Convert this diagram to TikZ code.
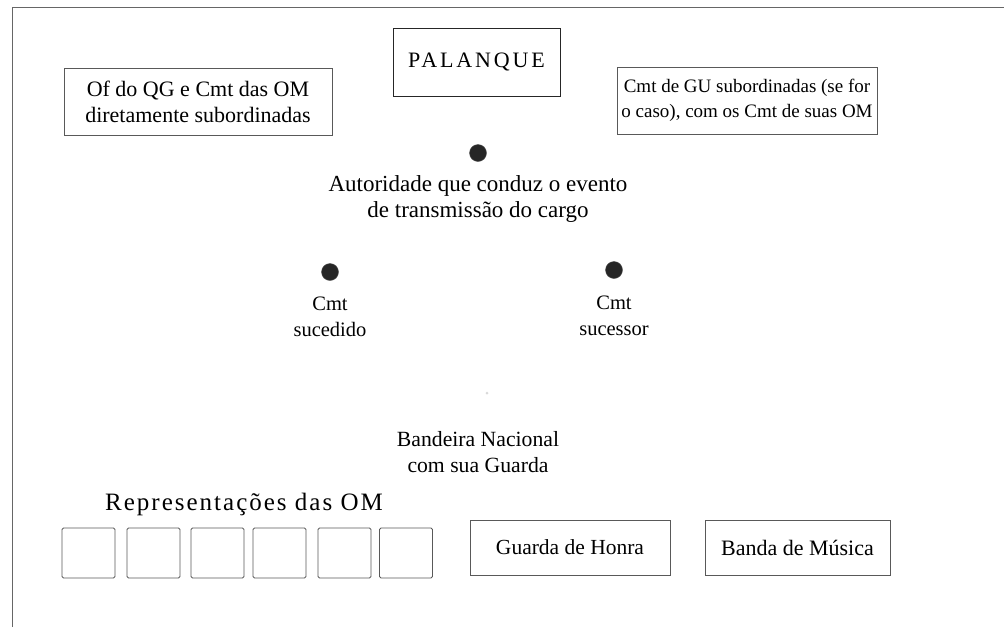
\documentclass[tikz,border=0pt]{standalone}
\usepackage{fontspec}
\setmainfont{Liberation Serif}
\begin{document}
\begin{tikzpicture}[x=1pt,y=-1pt,
  frame/.style={draw=black!60,line width=0.9pt},
  box/.style={draw=black!65,line width=0.9pt,inner sep=0pt,align=center,font=\fontsize{19}{25}\selectfont},
  omsq/.style={draw=black!65,line width=0.9pt,inner sep=0pt,minimum width=53pt,minimum height=50pt,rounded corners=1.5pt},
  pdot/.style={circle,fill=black!85,draw=black!70,minimum size=17pt,inner sep=0pt},
  lbl/.style={align=center,inner sep=0pt,font=\fontsize{20.5}{25.5}\selectfont}]
\useasboundingbox (0,0) rectangle (1006,627);
\draw[frame] (12,627) -- (12,7) -- (1004,7);
\node[box,draw=black!85,line width=1pt,minimum width=167pt,minimum height=68pt,font=\fontsize{22}{25}\selectfont\addfontfeature{LetterSpace=13}] (pal) at (476.5,62) {PALANQUE};
\node[box,minimum width=268pt,minimum height=67pt,font=\fontsize{22}{26}\selectfont] (of) at (198,101.5) {Of do QG e Cmt das OM\\diretamente subordinadas};
\node[box,minimum width=260pt,minimum height=67pt] (gu) at (747,100.5) {Cmt de GU subordinadas (se for\\o caso), com os Cmt de suas OM};
\node[pdot] (d1) at (478,153) {};
\node[lbl,font=\fontsize{23}{26}\selectfont] (aut) at (478,199) {Autoridade que conduz o evento\\de transmissão do cargo};
\node[pdot] (d2) at (330,272) {};
\node[pdot] (d3) at (614,270) {};
\node[lbl] (suc) at (330,317) {Cmt\\sucedido};
\node[lbl] (ssr) at (614,316) {Cmt\\sucessor};
\node[circle,fill=black!15,minimum size=3pt,inner sep=0pt] (flag) at (487,393) {};
\node[lbl,font=\fontsize{21.7}{25.5}\selectfont] (band) at (478,452) {Bandeira Nacional\\com sua Guarda};
\node[lbl,anchor=west,font=\fontsize{25}{25}\selectfont\addfontfeature{LetterSpace=8}] (rep) at (105,504) {Representações das OM};
\node[omsq] (s1) at (88.5,553) {};
\node[omsq] (s2) at (153.5,553) {};
\node[omsq] (s3) at (217.5,553) {};
\node[omsq] (s4) at (279.5,553) {};
\node[omsq] (s5) at (344.5,553) {};
\node[omsq] (s6) at (406,553) {};
\node[box,minimum width=200pt,minimum height=55pt,font=\fontsize{21.5}{25}\selectfont] (gh) at (570,547.5) {Guarda de Honra};
\node[box,minimum width=185pt,minimum height=55pt,font=\fontsize{22}{25}\selectfont] (bm) at (797.5,547.5) {Banda de Música};
\end{tikzpicture}
\end{document}
